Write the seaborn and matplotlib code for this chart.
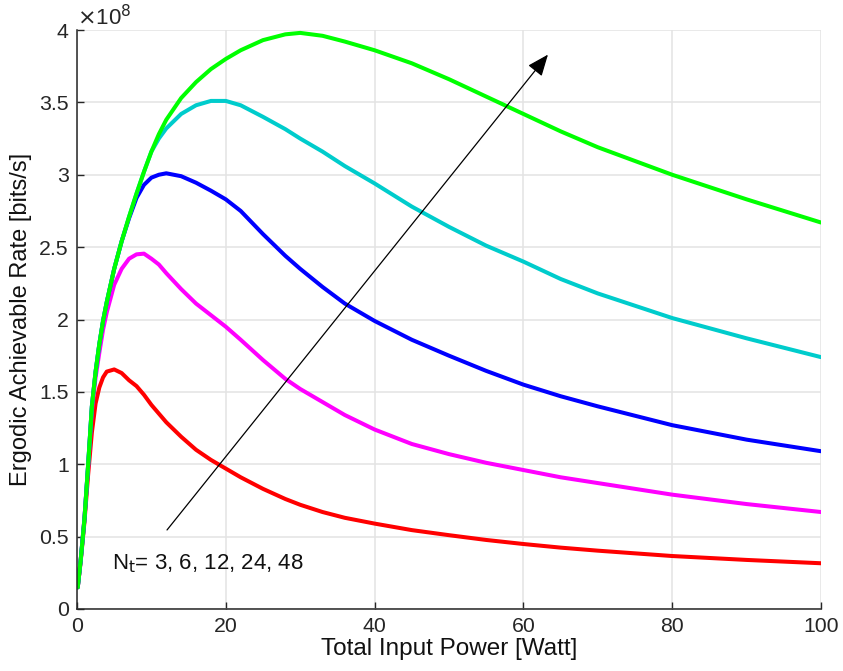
import numpy as np
import pandas as pd
import matplotlib
matplotlib.use("Agg")
import matplotlib.pyplot as plt
import seaborn as sns

# Total input power [Watt]
power = [0.1, 0.5, 1, 1.5, 2, 2.5, 3, 3.5, 4, 5, 6, 7, 8, 9, 10, 11, 12, 14, 16, 18,
         20, 22, 25, 28, 30, 33, 36, 40, 45, 50, 55, 60, 65, 70, 80, 90, 100]

# Ergodic achievable rate, in units of 1e8 bits/s
rate_nt3 = [0.15, 0.33, 0.60, 0.93, 1.22, 1.42, 1.53, 1.60, 1.64, 1.655, 1.63, 1.58, 1.54, 1.48,
            1.41, 1.35, 1.29, 1.19, 1.10, 1.03, 0.97, 0.91, 0.83, 0.76, 0.72, 0.67, 0.63, 0.59,
            0.545, 0.51, 0.477, 0.449, 0.424, 0.403, 0.366, 0.339, 0.316]
rate_nt6 = [0.15, 0.34, 0.63, 0.98, 1.37, 1.60, 1.77, 1.93, 2.05, 2.24, 2.35, 2.42, 2.45, 2.455,
            2.42, 2.38, 2.32, 2.21, 2.11, 2.03, 1.95, 1.86, 1.72, 1.59, 1.52, 1.43, 1.34, 1.24,
            1.14, 1.07, 1.01, 0.96, 0.91, 0.87, 0.79, 0.725, 0.67]
rate_nt12 = [0.15, 0.34, 0.62, 1.00, 1.40, 1.64, 1.83, 1.99, 2.12, 2.35, 2.54, 2.70, 2.84, 2.93,
             2.98, 3.00, 3.01, 2.99, 2.945, 2.89, 2.83, 2.75, 2.59, 2.44, 2.35, 2.225, 2.11, 1.99,
             1.86, 1.75, 1.645, 1.55, 1.47, 1.40, 1.27, 1.17, 1.09]
rate_nt24 = [0.15, 0.34, 0.62, 1.00, 1.40, 1.64, 1.83, 1.99, 2.12, 2.35, 2.54, 2.71, 2.87, 3.02,
             3.16, 3.25, 3.32, 3.42, 3.48, 3.51, 3.51, 3.48, 3.40, 3.315, 3.25, 3.16, 3.06, 2.94,
             2.78, 2.64, 2.51, 2.40, 2.28, 2.18, 2.01, 1.87, 1.74]
rate_nt48 = [0.15, 0.34, 0.62, 1.00, 1.40, 1.64, 1.83, 1.99, 2.12, 2.35, 2.54, 2.71, 2.87, 3.02,
             3.16, 3.28, 3.38, 3.53, 3.64, 3.73, 3.80, 3.86, 3.93, 3.97, 3.98, 3.96, 3.92, 3.86,
             3.77, 3.66, 3.54, 3.42, 3.30, 3.19, 3.00, 2.83, 2.67]

series_names = ["Nt=3", "Nt=6", "Nt=12", "Nt=24", "Nt=48"]
series_values = [rate_nt3, rate_nt6, rate_nt12, rate_nt24, rate_nt48]
series_colors = ["#ff0000", "#ff00ff", "#0000ff", "#00cccc", "#00ff00"]

x_ticks = [0, 20, 40, 60, 80, 100]
y_ticks = [0, 0.5, 1, 1.5, 2, 2.5, 3, 3.5, 4]
y_ticklabels = ["0", "0.5", "1", "1.5", "2", "2.5", "3", "3.5", "4"]

df = pd.concat([pd.DataFrame({"power": power, "rate": v, "Nt": n})
                for n, v in zip(series_names, series_values)], ignore_index=True)

sns.set_theme(style="whitegrid")
plt.rcParams["font.family"] = ["Liberation Sans", "DejaVu Sans"]

fig = plt.figure(figsize=(8.43, 6.71), dpi=100)
ax = fig.add_axes([77 / 843, 62 / 671, (821 - 77) / 843, (609 - 30) / 671])

sns.lineplot(data=df, x="power", y="rate", hue="Nt", hue_order=series_names,
             palette=series_colors, estimator=None, sort=False, linewidth=2.9,
             legend=False, ax=ax)
for line in ax.get_lines():
    line.set_solid_joinstyle("round")

ax.set_xlim(0, 100)
ax.set_ylim(0, 4)
ax.set_xticks(x_ticks)
ax.set_yticks(y_ticks)
ax.set_yticklabels(y_ticklabels)
ax.set_facecolor("white")
ax.grid(True, color="#e3e3e3", linewidth=1.1)
ax.set_axisbelow(True)

for s in ["top", "right"]:
    ax.spines[s].set_visible(False)
for s in ["left", "bottom"]:
    ax.spines[s].set_visible(True)
    ax.spines[s].set_color("#262626")
    ax.spines[s].set_linewidth(1.1)

ax.tick_params(axis="both", direction="in", length=5, width=1.0, colors="#262626",
               labelsize=15.3, labelcolor="#262626", pad=6, left=True, bottom=True)

ax.set_xlabel("Total Input Power [Watt]", fontsize=17.5, color="#111111", labelpad=1)
ax.set_ylabel("Ergodic Achievable Rate [bits/s]", fontsize=17, color="#111111", labelpad=5)

ax.text(0.0, 1.0, r"$\times$10$^{8}$", transform=ax.transAxes, fontsize=16,
        color="#262626", ha="left", va="bottom")

ax.annotate("", xy=(63.3, 3.83), xytext=(12.1, 0.546),
            arrowprops=dict(arrowstyle="-|>,head_length=1.1,head_width=0.45",
                            color="black", lw=0.9, shrinkA=0, shrinkB=0))
ax.text(4.7, 0.31, r"N$_\mathrm{t}$= 3, 6, 12, 24, 48", fontsize=16,
        color="#111111", ha="left", va="center")

fig.savefig("out.png", dpi=100, facecolor="white")
